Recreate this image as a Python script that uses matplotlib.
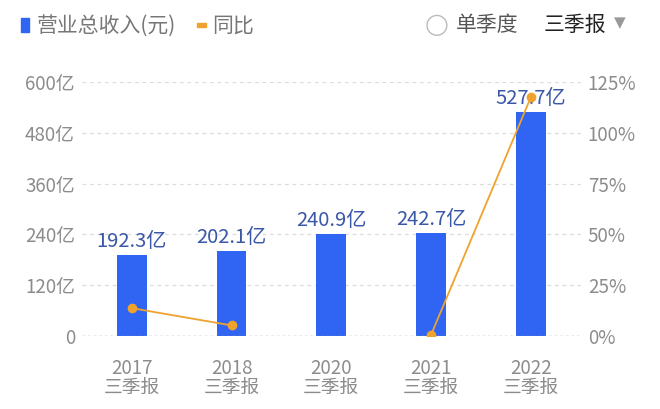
import numpy as np
import matplotlib
matplotlib.use('Agg')
import matplotlib.pyplot as plt
from matplotlib.patches import Rectangle, Ellipse

plt.rcParams['font.family'] = ['Noto Sans CJK SC', 'DejaVu Sans']

years = ['2017', '2018', '2020', '2021', '2022']
revenue = [192.3, 202.1, 240.9, 242.7, 527.7]   # 亿
yoy = [13.8, 5.3, np.nan, 0.7, 117.5]          # %
left_ticks = [0, 120, 240, 360, 480, 600]
right_ticks = [0, 25, 50, 75, 100, 125]

bar_c = '#3064F2'
line_c = '#F0A22E'
grey = '#8C8C8C'
label_c = '#3A57A8'

fig = plt.figure(figsize=(6.6, 4.09), dpi=100)
ax = fig.add_axes([0.124, 0.178, 0.756, 0.622])
x = np.arange(len(years))

ax.bar(x, revenue, width=0.3, color=bar_c, zorder=2)
for xi, v in zip(x, revenue):
    ax.text(xi, v + 7, f'{v}亿', ha='center', va='bottom', color=label_c, fontsize=14.5)

ax.set_ylim(0, 600)
ax.set_xlim(-0.5, 4.5)
ax.set_yticks(left_ticks)
ax.set_yticklabels(['0'] + [f'{t}亿' for t in left_ticks[1:]])
ax.set_xticks(x)
ax.set_xticklabels([f'{y}\n三季报' for y in years], linespacing=0.85)
for t in left_ticks[1:]:
    ax.axhline(t, color='#DDDDDD', lw=0.9, ls=(0, (3, 3)), zorder=0)
ax.axhline(0, color='#999999', lw=1, ls=(0, (2, 2)), zorder=3)
for s in ax.spines.values():
    s.set_visible(False)
ax.tick_params(length=0, colors=grey, labelsize=13.5)
ax.tick_params(axis='x', pad=16, labelsize=13.5)
ax.tick_params(axis='y', pad=5)

ax2 = ax.twinx()
ax2.set_ylim(0, 125)
ax2.set_yticks(right_ticks)
ax2.set_yticklabels([f'{t}%' for t in right_ticks])
for s in ax2.spines.values():
    s.set_visible(False)
ax2.tick_params(length=0, colors=grey, labelsize=13.5, pad=5)
ax2.plot(x, yoy, color=line_c, lw=1.3, marker='o', ms=6, zorder=4)

# legend / header
fig.patches.append(Rectangle((0.032, 0.921), 0.012, 0.034, transform=fig.transFigure,
                             color=bar_c, figure=fig))
fig.text(0.055, 0.938, '营业总收入(元)', color='#777777', fontsize=15, va='center')
fig.patches.append(Rectangle((0.298, 0.934), 0.014, 0.009, transform=fig.transFigure,
                             color=line_c, figure=fig))
fig.text(0.322, 0.938, '同比', color='#777777', fontsize=15, va='center')
fig.patches.append(Ellipse((0.662, 0.938), 0.03, 0.03 * 660 / 409, transform=fig.transFigure,
                           fill=False, ec='#BBBBBB', lw=1, figure=fig))
fig.text(0.69, 0.938, '单季度', color='#555555', fontsize=15, va='center')
fig.text(0.824, 0.938, '三季报', color='#222222', fontsize=15, va='center')
fig.text(0.93, 0.945, '▼', color='#999999', fontsize=11, va='center', family='DejaVu Sans')

fig.savefig('out.png', dpi=100, facecolor='white')
